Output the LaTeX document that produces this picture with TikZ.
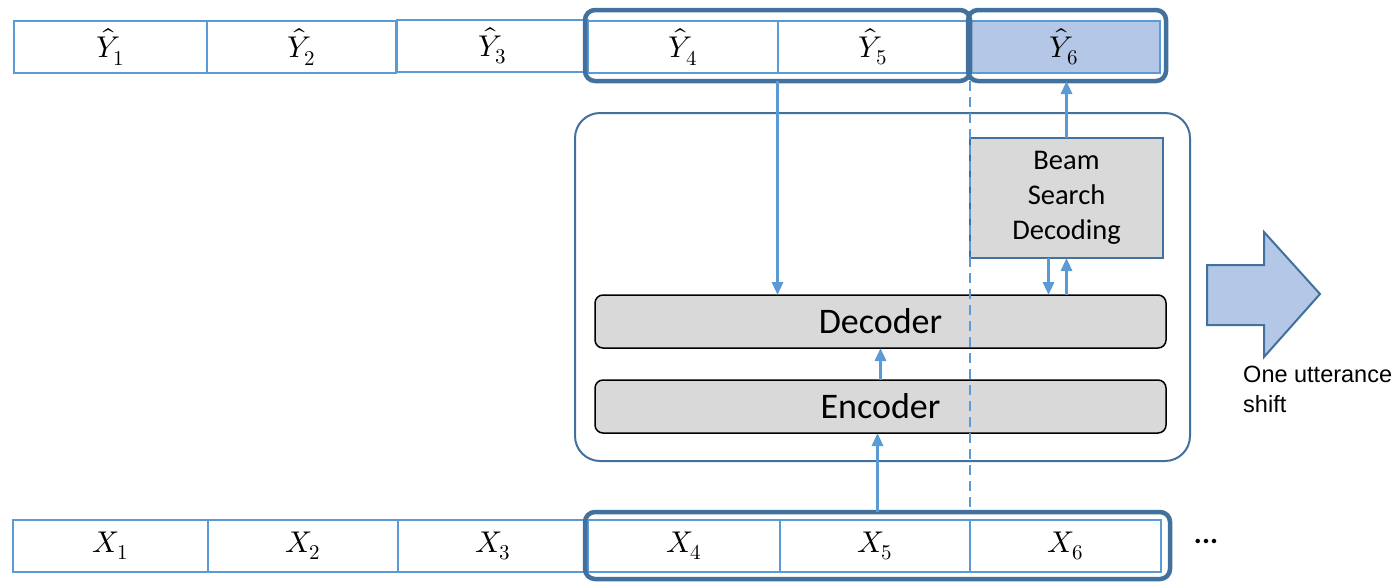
\documentclass[tikz,border=0pt]{standalone}
\usepackage{fontspec}
\usepackage{unicode-math}
\setmainfont{Carlito}
\setmathfont{Latin Modern Math}
\newfontfamily\arialf{Liberation Sans}
\usetikzlibrary{arrows.meta,positioning,calc}
\definecolor{lblue}{HTML}{5B9BD5}
\definecolor{dblue}{HTML}{41719C}
\definecolor{fblue}{HTML}{B4C7E7}
\definecolor{lgray}{HTML}{D9D9D9}
\tikzset{
  cell/.style={draw=lblue, line width=2pt, minimum height=52pt, inner sep=0pt, outer sep=0pt, font=\fontsize{30}{36}\selectfont},
  grp/.style={draw=dblue, line width=4.5pt, rounded corners=10pt, inner sep=0pt, outer sep=0pt},
  layer/.style={draw=black, line width=1.5pt, fill=lgray, rounded corners=8pt, minimum width=571pt, minimum height=53pt, inner sep=0pt, outer sep=0pt, font=\fontsize{36}{40}\selectfont},
  arr/.style={draw=lblue, line width=3pt, -{Triangle[length=13pt,width=11pt]}},
}
\begin{document}
\begin{tikzpicture}[x=1pt,y=-1pt]
\useasboundingbox (0,0) rectangle (1399,582);
% outer box
\node[draw=dblue, line width=2pt, rounded corners=25pt, minimum width=615pt, minimum height=348pt, inner sep=0pt, outer sep=0pt] (outer) at (882.5,287) {};
% Y row
\node[cell, minimum width=193pt] (Y1) at (110.5,47) {$\hat{Y}_1$};
\node[cell, minimum width=189pt] (Y2) at (301.5,47) {$\hat{Y}_2$};
\node[cell, minimum width=191pt] (Y3) at (492.5,45.5) {$\hat{Y}_3$};
\node[cell, minimum width=190pt] (Y4) at (683,47) {$\hat{Y}_4$};
\node[cell, minimum width=190pt] (Y5) at (873,47) {$\hat{Y}_5$};
\node[cell, minimum width=192pt, fill=fblue] (Y6) at (1064,47) {$\hat{Y}_6$};
\node[grp, minimum width=385pt, minimum height=71pt] (g45) at (777.5,45.5) {};
\node[grp, minimum width=198pt, minimum height=71pt] (g6) at (1067,45.5) {};
% X row
\node[cell, minimum width=195pt] (X1) at (110.5,546) {$X_1$};
\node[cell, minimum width=190pt] (X2) at (303,546) {$X_2$};
\node[cell, minimum width=190pt] (X3) at (493,546) {$X_3$};
\node[cell, minimum width=192pt] (X4) at (684,546) {$X_4$};
\node[cell, minimum width=190pt] (X5) at (875,546) {$X_5$};
\node[cell, minimum width=191pt] (X6) at (1065.5,546) {$X_6$};
\node[grp, minimum width=585pt, minimum height=67pt] (g46) at (877.5,545.5) {};
\node[font=\fontsize{30}{36}\selectfont\bfseries] (dots) at (1206,541) {...};
% layers
\node[layer] (dec) at (880.5,321.5) {Decoder};
\node[layer] (enc) at (880.5,406.5) {Encoder};
\node[draw=dblue, line width=2.5pt, fill=lgray, minimum width=193pt, minimum height=120pt, inner sep=0pt, outer sep=0pt, align=center, font=\fontsize{28.5}{35}\selectfont] (bsd) at (1066.5,198) {Beam\\Search\\Decoding};
% dashed line
\coordinate (dtop) at (970,81);
\coordinate (dbot) at (970,512);
\draw[lblue, line width=2pt, dash pattern=on 10pt off 6pt] (dtop) -- (dbot);
% arrows
\draw[arr] (g45.south) -- (g45.south |- dec.north);
\draw[arr] (g46.north) -- (g46.north |- enc.south);
\draw[arr] (enc.north) -- (dec.south);
\draw[arr] ([xshift=-18pt]bsd.south) -- ([xshift=-18pt]bsd.south |- dec.north);
\draw[arr] (bsd.south |- dec.north) -- (bsd.south);
\draw[arr] (bsd.north) -- (bsd.north |- g6.south);
% big arrow
\draw[draw=dblue, fill=fblue, line width=2pt, line join=miter] (1207,265) -- (1264,265) -- (1264,232) -- (1320,294) -- (1264,357) -- (1264,325) -- (1207,325) -- cycle;
\node[anchor=north west, align=left, inner sep=0pt, font=\arialf\fontsize{23.5}{30}\selectfont] (shift) at (1243,366) {One utterance\\shift};
\end{tikzpicture}
\end{document}
